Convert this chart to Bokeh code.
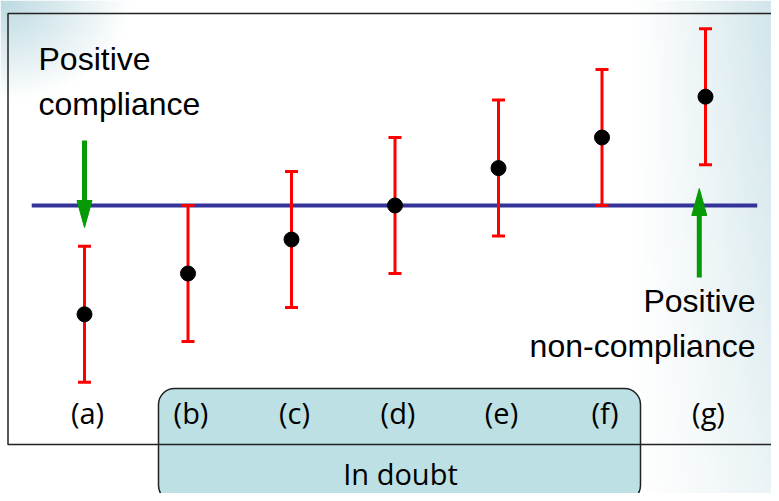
import numpy as np
from bokeh.plotting import figure
from bokeh.models import ColumnDataSource, BoxAnnotation, Range1d
from bokeh.core.properties import value
from bokeh.embed import file_html
from bokeh.resources import INLINE

# ---- data ----
labels = ["(a)", "(b)", "(c)", "(d)", "(e)", "(f)", "(g)"]
measured = [-1.6, -1.0, -0.5, 0.0, 0.55, 1.0, 1.6]
uncertainty = [1.0, 1.0, 1.0, 1.0, 1.0, 1.0, 1.0]
limit = 0.0
doubt_label = "In doubt"
left_note = ["Positive", "compliance"]
right_note = ["Positive", "non-compliance"]

x = list(range(len(labels)))
lower = [m - u for m, u in zip(measured, uncertainty)]
upper = [m + u for m, u in zip(measured, uncertainty)]

# ---- pixel <-> data helpers ----
X0, XS = 84.0, 103.5
Y0, YS = 205.0, 68.0
W, H = 771, 493
TY = -12  # text vertical correction


def xd(px):
    return (px - X0) / XS


def yd(py):
    return (Y0 - py) / YS


p = figure(width=W, height=H, x_range=Range1d(xd(0), xd(W)),
           y_range=Range1d(yd(H), yd(0)), output_backend="svg",
           toolbar_location=None, min_border=0,
           x_axis_location=None, y_axis_location=None)
p.grid.visible = False
p.outline_line_color = None
p.background_fill_color = "white"
p.border_fill_color = "white"

# ---- slide background gradient ----
gh, gw = 124, 193
yy, xx = np.mgrid[0:gh, 0:gw]
px = (xx + 0.5) * W / gw
py = H - (yy + 0.5) * H / gh
w_right = np.clip((px - 630) / 150, 0, 1) ** 1.2 * (0.55 - 0.3 * py / H)
w_tl = np.clip(1 - np.hypot(px, py * 1.3) / 130, 0, 1) * 0.75
w = np.clip(np.maximum(w_right, w_tl), 0, 1)
teal = np.array([165, 205, 215])
img = np.empty((gh, gw), dtype=np.uint32)
view = img.view(dtype=np.uint8).reshape((gh, gw, 4))
for k in range(3):
    view[..., k] = (255 + (teal[k] - 255) * w).astype(np.uint8)
view[..., 3] = 255
p.image_rgba(image=[img], x=xd(0), y=yd(H), dw=xd(W) - xd(0),
             dh=yd(0) - yd(H), level="image")

# ---- "in doubt" rounded box ----
box = BoxAnnotation(left=xd(158), right=xd(640), top=yd(388), bottom=yd(501),
                    fill_color="#bce0e4", fill_alpha=1.0,
                    line_color="#222222", line_alpha=1.0, line_width=1.5,
                    border_radius=16, level="underlay")
p.add_layout(box)

# ---- main frame outline ----
p.quad(left=[xd(7.5)], right=[xd(820)], top=[yd(13)], bottom=[yd(444)],
       fill_alpha=0, line_color="#222222", line_width=1.5)

# ---- limit line ----
p.segment(x0=[-0.51], x1=[6.5], y0=[limit], y1=[limit],
          line_color="#333399", line_width=4)

# ---- error bars ----
src = ColumnDataSource(dict(x=x, lower=lower, upper=upper, mean=measured))
p.segment(x0="x", x1="x", y0="lower", y1="upper", source=src,
          line_color="#ff0000", line_width=3)
p.scatter(x="x", y="lower", source=src, marker="dash", size=13,
          line_color="#ff0000", line_width=3)
p.scatter(x="x", y="upper", source=src, marker="dash", size=13,
          line_color="#ff0000", line_width=3)
p.scatter(x="x", y="mean", source=src, size=15, color="black")

# ---- arrows ----
green = "#079a07"
hw = 7.5 / XS
xa = x[0]
p.segment(x0=[xa], x1=[xa], y0=[yd(140)], y1=[yd(204)], line_color=green, line_width=5)
p.patch(x=[xa - hw, xa + hw, xa], y=[yd(200), yd(200), yd(227)], color=green)
xg = x[-1] - 0.06
p.segment(x0=[xg], x1=[xg], y0=[yd(277)], y1=[yd(212)], line_color=green, line_width=5)
p.patch(x=[xg - hw, xg + hw, xg], y=[yd(215), yd(215), yd(188)], color=green)

# ---- texts ----
p.text(x=[xd(38), xd(38)], y=[yd(70 + TY), yd(115 + TY)], text=left_note,
       text_font=value("Liberation Sans"), text_font_size="32px",
       text_align="left", text_baseline="alphabetic", text_color="black")
p.text(x=[xd(755), xd(755)], y=[yd(312 + TY), yd(357 + TY)], text=right_note,
       text_font=value("Liberation Sans"), text_font_size="32px",
       text_align="right", text_baseline="alphabetic", text_color="black")
p.text(x=x, y=[yd(424 + TY)] * len(x), text=labels, x_offset=3,
       text_font=value("Open Sans"), text_font_size="29px",
       text_align="center", text_baseline="alphabetic", text_color="black")
p.text(x=[xd(400)], y=[yd(485 + TY)], text=[doubt_label],
       text_font=value("Open Sans"), text_font_size="29px",
       text_align="center", text_baseline="alphabetic", text_color="black")

open("out.html", "w").write(file_html(p, INLINE))
